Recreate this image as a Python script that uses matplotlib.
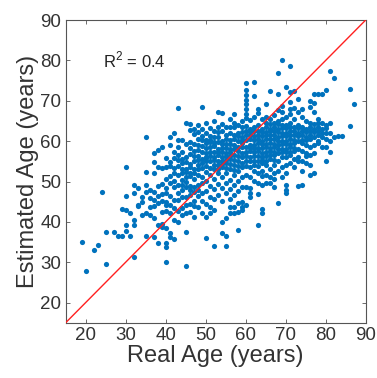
import matplotlib
matplotlib.use("Agg")
import matplotlib.pyplot as plt
import numpy as np

# (real age, estimated age) pairs, grouped by age band
points_young = [
    (19, 35.0), (20, 27.8), (22, 33.0), (23, 34.2), (24, 47.3), (25, 37.4), (25, 29.5),
    (27, 37.4), (28, 36.6), (29, 36.6), (29, 43.3), (30, 42.9), (30, 39.2), (30, 37.7),
    (30, 46.3), (30, 53.7), (31, 36.6), (31, 42.1), (32, 40.4), (32, 39.2), (32, 31.2),
    (32, 47.1), (32, 49.1), (33, 48.4), (33, 44.2), (33, 43.9), (34, 45.0), (34, 41.7),
    (34, 46.2), (35, 42.1), (35, 36.5), (35, 52.4), (35, 49.1), (35, 47.4), (35, 61.1),
    (36, 41.7), (36, 43.7), (36, 48.0), (36, 46.0), (37, 40.9), (37, 43.9), (37, 36.3),
    (37, 52.2), (37, 54.9), (37, 57.0), (37, 47.5), (37, 45.5), (38, 39.2), (38, 44.6),
    (38, 34.7), (38, 48.8), (38, 46.5), (38, 57.8), (38, 53.7), (39, 38.8), (39, 39.6),
    (39, 58.6), (39, 53.3), (39, 47.0), (39, 45.2), (39, 49.5), (39, 42.5),
]

points_mid = [
    (40, 45.0), (40, 44.2), (40, 34.7), (40, 33.8), (40, 30.0), (40, 38.4), (40, 50.7),
    (40, 53.6), (40, 55.9), (40, 48.3), (40, 42.6), (40, 47.1),
    (41, 37.2), (41, 61.1), (41, 59.0), (41, 53.8), (41, 51.3), (41, 46.4), (41, 44.1),
    (41, 49.7), (41, 36.3), (41, 54.9), (41, 42.2),
    (42, 61.9), (42, 53.3), (42, 52.2), (42, 35.7), (42, 48.6), (42, 45.3), (42, 50.1),
    (42, 57.2), (42, 43.4), (42, 55.8), (42, 40.5),
    (43, 68.3), (43, 58.6), (43, 56.6), (43, 55.3), (43, 49.1), (43, 47.1), (43, 40.0),
    (43, 51.7), (43, 45.3), (43, 53.9), (43, 60.2), (43, 42.6),
    (44, 49.1), (44, 54.6), (44, 52.1), (44, 57.4), (44, 46.2), (44, 43.4), (44, 60.3),
    (44, 50.4), (44, 55.7), (44, 41.6), (44, 47.8), (44, 53.2),
    (45, 29.0), (45, 37.4), (45, 53.2), (45, 56.1), (45, 48.6), (45, 51.2), (45, 59.3),
    (45, 46.1), (45, 44.2), (45, 64.6), (45, 54.8), (45, 49.9), (45, 42.1), (45, 52.4),
    (46, 62.7), (46, 58.2), (46, 54.4), (46, 52.0), (46, 48.8), (46, 46.6), (46, 44.4),
    (46, 56.7), (46, 59.9), (46, 51.3), (46, 64.3), (46, 42.4), (46, 47.9), (46, 53.6),
    (47, 41.2), (47, 57.6), (47, 55.2), (47, 53.1), (47, 50.6), (47, 47.4), (47, 59.4),
    (47, 61.8), (47, 45.1), (47, 52.0), (47, 63.1), (47, 56.3), (47, 48.7), (47, 44.0),
    (48, 62.2), (48, 59.1), (48, 56.4), (48, 54.2), (48, 51.6), (48, 49.1), (48, 46.5),
    (48, 57.8), (48, 60.6), (48, 53.1), (48, 43.7), (48, 55.3), (48, 64.1), (48, 47.9),
    (49, 68.4), (49, 42.1), (49, 60.2), (49, 57.4), (49, 55.6), (49, 53.3), (49, 51.2),
    (49, 47.1), (49, 58.8), (49, 61.3), (49, 54.5), (49, 62.9), (49, 49.6), (49, 45.2),
    (50, 36.1), (50, 41.2), (50, 59.6), (50, 57.1), (50, 55.2), (50, 52.4), (50, 50.2),
    (50, 62.1), (50, 60.4), (50, 56.1), (50, 53.8), (50, 64.6), (50, 47.6), (50, 44.4),
    (50, 58.2), (50, 55.9),
    (51, 42.1), (51, 61.2), (51, 58.6), (51, 56.3), (51, 53.4), (51, 51.7), (51, 48.9),
    (51, 59.7), (51, 63.2), (51, 55.1), (51, 57.4), (51, 46.2), (51, 60.4), (51, 43.6),
    (52, 34.0), (52, 42.9), (52, 57.2), (52, 55.4), (52, 53.1), (52, 59.8), (52, 62.6),
    (52, 50.6), (52, 48.1), (52, 58.7), (52, 56.1), (52, 54.2), (52, 65.1), (52, 45.6),
    (52, 61.1), (52, 59.1),
    (53, 67.2), (53, 63.6), (53, 59.7), (53, 57.2), (53, 55.1), (53, 52.2), (53, 49.4),
    (53, 61.1), (53, 58.1), (53, 54.1), (53, 56.6), (53, 46.6), (53, 62.2), (53, 53.0),
    (54, 37.3), (54, 40.0), (54, 67.0), (54, 60.1), (54, 58.2), (54, 56.1), (54, 53.6),
    (54, 51.1), (54, 48.4), (54, 62.6), (54, 55.2), (54, 57.4), (54, 64.2), (54, 45.1),
    (54, 59.3), (54, 54.3),
    (55, 34.1), (55, 36.5), (55, 40.9), (55, 61.6), (55, 59.2), (55, 57.1), (55, 54.6),
    (55, 52.2), (55, 49.6), (55, 63.4), (55, 56.2), (55, 58.4), (55, 47.1), (55, 60.6),
    (55, 55.4), (55, 53.3),
    (56, 43.7), (56, 42.1), (56, 65.6), (56, 60.2), (56, 58.1), (56, 55.6), (56, 53.1),
    (56, 50.4), (56, 62.1), (56, 57.2), (56, 48.1), (56, 59.4), (56, 63.6), (56, 54.4),
    (56, 45.6), (56, 56.4),
    (57, 43.6), (57, 42.1), (57, 46.6), (57, 66.7), (57, 61.6), (57, 59.1), (57, 56.6),
    (57, 54.1), (57, 51.6), (57, 63.4), (57, 58.1), (57, 49.1), (57, 60.6), (57, 55.4),
    (57, 64.6), (57, 52.8),
    (58, 38.1), (58, 44.6), (58, 42.5), (58, 62.1), (58, 60.1), (58, 57.6), (58, 55.1),
    (58, 52.6), (58, 50.1), (58, 64.1), (58, 58.6), (58, 47.6), (58, 61.2), (58, 56.4),
    (58, 53.8),
    (59, 43.7), (59, 42.9), (59, 45.0), (59, 63.6), (59, 61.1), (59, 58.6), (59, 56.1),
    (59, 53.6), (59, 51.1), (59, 65.1), (59, 59.6), (59, 48.6), (59, 62.2), (59, 57.1),
    (59, 54.6), (59, 60.3),
]

points_old = [
    (60, 74.5), (60, 72.7), (60, 71.5), (60, 70.2), (60, 69.1), (60, 68.0), (60, 66.8),
    (60, 65.8), (60, 62.6), (60, 60.4), (60, 58.6), (60, 56.2), (60, 53.9), (60, 51.6),
    (60, 48.7), (60, 44.1), (60, 61.4), (60, 57.2), (60, 55.1), (60, 63.7),
    (61, 63.1), (61, 60.6), (61, 58.2), (61, 56.1), (61, 53.6), (61, 51.2), (61, 48.5),
    (61, 47.2), (61, 46.1), (61, 62.2), (61, 59.1), (61, 55.2), (61, 57.6), (61, 65.2),
    (61, 61.5),
    (62, 74.7), (62, 71.2), (62, 65.9), (62, 63.6), (62, 61.2), (62, 59.1), (62, 57.2),
    (62, 55.1), (62, 52.6), (62, 50.1), (62, 60.2), (62, 62.4), (62, 56.3), (62, 58.3),
    (62, 54.2),
    (63, 39.2), (63, 47.0), (63, 68.0), (63, 66.9), (63, 64.1), (63, 61.6), (63, 59.6),
    (63, 57.6), (63, 55.1), (63, 52.2), (63, 49.6), (63, 62.6), (63, 60.6), (63, 58.4),
    (63, 56.4), (63, 53.8),
    (64, 43.1), (64, 42.3), (64, 51.3), (64, 65.6), (64, 63.1), (64, 61.2), (64, 59.2),
    (64, 57.1), (64, 54.6), (64, 52.6), (64, 49.2), (64, 62.2), (64, 60.1), (64, 56.1),
    (64, 58.3), (64, 55.4),
    (65, 69.2), (65, 64.6), (65, 62.2), (65, 60.6), (65, 58.6), (65, 56.2), (65, 54.1),
    (65, 51.6), (65, 63.6), (65, 61.4), (65, 59.4), (65, 55.1), (65, 66.1), (65, 49.6),
    (65, 57.4),
    (66, 72.4), (66, 49.7), (66, 65.6), (66, 63.1), (66, 61.6), (66, 59.6), (66, 57.6),
    (66, 55.6), (66, 53.1), (66, 64.2), (66, 60.6), (66, 58.4), (66, 51.1), (66, 62.4),
    (66, 56.6),
    (67, 48.7), (67, 64.6), (67, 62.6), (67, 60.6), (67, 58.6), (67, 56.6), (67, 54.1),
    (67, 52.1), (67, 63.6), (67, 61.4), (67, 59.4), (67, 57.4), (67, 66.6), (67, 50.6),
    (67, 55.3),
    (68, 77.0), (68, 44.7), (68, 71.8), (68, 65.1), (68, 63.1), (68, 61.1), (68, 59.1),
    (68, 57.1), (68, 55.1), (68, 52.6), (68, 64.2), (68, 62.2), (68, 60.1), (68, 58.1),
    (68, 67.6),
    (69, 80.1), (69, 68.7), (69, 67.3), (69, 64.1), (69, 62.1), (69, 60.1), (69, 58.1),
    (69, 56.1), (69, 53.6), (69, 51.1), (69, 63.2), (69, 61.2), (69, 59.2), (69, 65.6),
    (69, 57.3),
    (70, 73.3), (70, 48.0), (70, 47.2), (70, 49.1), (70, 66.1), (70, 64.1), (70, 62.1),
    (70, 60.1), (70, 58.1), (70, 56.1), (70, 54.1), (70, 52.1), (70, 63.2), (70, 61.2),
    (70, 59.2), (70, 57.3),
    (71, 78.6), (71, 72.2), (71, 69.8), (71, 67.9), (71, 66.7), (71, 64.6), (71, 62.6),
    (71, 60.6), (71, 58.6), (71, 56.6), (71, 54.6), (71, 63.4), (71, 61.4), (71, 59.4),
    (71, 57.4),
    (72, 72.5), (72, 65.6), (72, 63.6), (72, 61.6), (72, 59.6), (72, 57.6), (72, 55.6),
    (72, 53.6), (72, 62.4), (72, 60.4), (72, 58.4), (72, 68.1),
    (73, 70.4), (73, 48.9), (73, 67.1), (73, 64.1), (73, 62.1), (73, 60.1), (73, 58.1),
    (73, 56.1), (73, 63.2), (73, 61.2), (73, 55.1),
    (74, 49.1), (74, 67.9), (74, 66.1), (74, 63.6), (74, 61.6), (74, 59.6), (74, 57.6),
    (74, 55.1), (74, 62.4), (74, 60.4), (74, 52.6),
    (75, 65.1), (75, 63.1), (75, 61.1), (75, 59.1), (75, 57.1), (75, 54.6), (75, 62.2),
    (75, 60.2), (75, 56.2),
    (76, 70.0), (76, 68.5), (76, 51.6), (76, 64.6), (76, 62.6), (76, 60.6), (76, 58.6),
    (76, 56.6), (76, 63.4), (76, 61.4), (76, 54.1),
    (77, 71.7), (77, 69.5), (77, 67.1), (77, 52.0), (77, 63.1), (77, 61.1), (77, 59.1),
    (77, 57.1), (77, 64.2), (77, 62.2),
    (78, 71.8), (78, 65.6), (78, 64.4), (78, 63.4), (78, 61.6), (78, 59.6), (78, 62.4),
    (78, 60.1),
    (79, 71.7), (79, 63.1), (79, 61.1), (79, 58.6), (79, 64.6), (79, 62.1),
    (80, 72.7), (80, 55.0), (80, 58.6), (80, 64.1), (80, 62.1), (80, 60.6), (80, 63.2),
    (81, 77.4), (81, 64.4), (81, 57.4), (81, 62.1), (81, 60.1),
    (82, 75.7), (82, 61.0), (83, 61.3), (84, 61.3), (86, 72.8), (86, 63.8), (87, 69.2),
]

r2_label = r"R$^{\mathregular{2}}$ = 0.4"
ticks = [20, 30, 40, 50, 60, 70, 80, 90]

pts = np.array(points_young + points_mid + points_old)

plt.rcParams['font.family'] = ['Liberation Sans', 'DejaVu Sans']
plt.rcParams['mathtext.fontset'] = 'custom'
plt.rcParams['mathtext.rm'] = 'Liberation Sans'
fig = plt.figure(figsize=(3.77, 3.78), dpi=100)
ax = fig.add_axes([0.174, 0.146, 0.796, 0.801])

ax.scatter(pts[:, 0], pts[:, 1], s=14, color='#0072BD', linewidths=0, zorder=2)
ax.plot([15, 90], [15, 90], color='#FF2020', linewidth=1.0, zorder=3)

ax.set_xlim(15, 90)
ax.set_ylim(15, 90)
ax.set_xticks(ticks)
ax.set_yticks(ticks)
ax.tick_params(direction='in', length=3, width=0.6, top=True, right=True,
               labelsize=13.5, labelcolor='#333333', color='#555555', pad=3)
for s in ax.spines.values():
    s.set_color('#555555')
    s.set_linewidth(0.8)

ax.set_xlabel('Real Age (years)', fontsize=17, color='#333333', labelpad=1)
ax.set_ylabel('Estimated Age (years)', fontsize=17, color='#333333', labelpad=1)
ax.text(24.3, 80, r2_label, fontsize=12, color='#222222', va='center')

fig.savefig('out.png', dpi=100)
